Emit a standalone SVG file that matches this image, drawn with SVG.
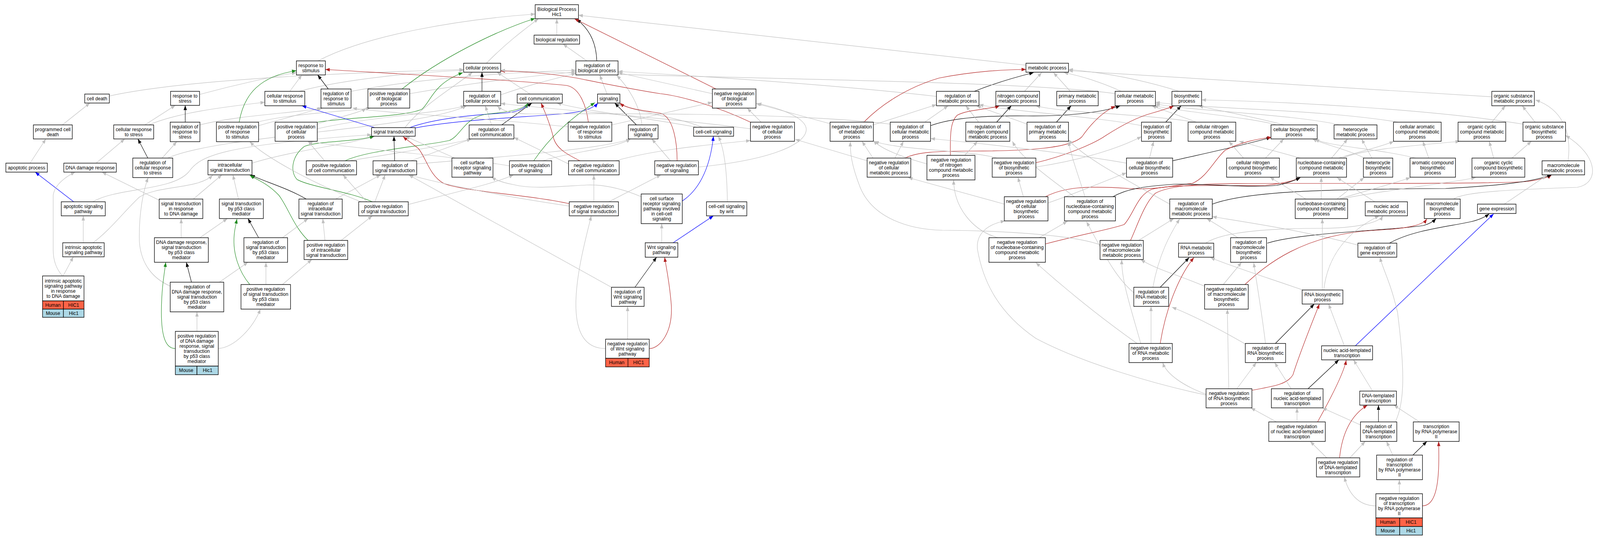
<svg xmlns="http://www.w3.org/2000/svg" width="4362" height="1381" viewBox="0 0 4362 1381">
<style>
.b{fill:#fff;stroke:#000;stroke-width:1.4}
.hu{fill:#ff6347;stroke:#000;stroke-width:1.4}
.mo{fill:#add8e6;stroke:#000;stroke-width:1.4}
.t{font-family:"Liberation Sans",Arial,Helvetica,sans-serif;font-size:13px;text-anchor:middle;fill:#000}
.e path{fill:none;stroke-width:1.2}
.g{stroke:#c0c0c0;marker-end:url(#mg)}
.k{stroke:#000;marker-end:url(#mk)}
.gr{stroke:#228b22;marker-end:url(#mgr)}
.r{stroke:#b22222;marker-end:url(#mr)}
.bl{stroke:#0000ff;marker-end:url(#mb)}
</style>
<defs>
<marker id="mg" markerUnits="userSpaceOnUse" markerWidth="13" markerHeight="10" refX="12" refY="4.5" orient="auto"><path d="M0,0 L12,4.5 L0,9 z" fill="#c0c0c0"/></marker>
<marker id="mk" markerUnits="userSpaceOnUse" markerWidth="13" markerHeight="10" refX="12" refY="4.5" orient="auto"><path d="M0,0 L12,4.5 L0,9 z" fill="#000"/></marker>
<marker id="mgr" markerUnits="userSpaceOnUse" markerWidth="13" markerHeight="10" refX="12" refY="4.5" orient="auto"><path d="M0,0 L12,4.5 L0,9 z" fill="#228b22"/></marker>
<marker id="mr" markerUnits="userSpaceOnUse" markerWidth="13" markerHeight="10" refX="12" refY="4.5" orient="auto"><path d="M0,0 L12,4.5 L0,9 z" fill="#b22222"/></marker>
<marker id="mb" markerUnits="userSpaceOnUse" markerWidth="13" markerHeight="10" refX="12" refY="4.5" orient="auto"><path d="M0,0 L12,4.5 L0,9 z" fill="#0000ff"/></marker>
</defs>
<rect width="4362" height="1381" fill="#fff"/>
<g id="diagram" transform="scale(0.93902,1)">
<g id="connectors" class="e">
<path class="g" d="M170,320 L245,264"/>
<path class="g" d="M298,246 C520,200 1000,185 1264,178"/>
<path class="g" d="M544,242 C650,215 750,195 808,186"/>
<path class="g" d="M395,320 L478,270"/>
<path class="g" d="M406,320 C480,290 600,275 722,262"/>
<path class="k" d="M505,313 L505,270"/>
<path class="g" d="M545,320 C650,295 800,290 880,277"/>
<path class="gr" d="M652,313 C665,240 710,195 808,181"/>
<path class="g" d="M705,322 C780,302 840,288 876,276"/>
<path class="g" d="M700,313 C800,290 950,285 1010,277"/>
<path class="g" d="M82,418 L125,356"/>
<path class="g" d="M262,418 L340,356"/>
<path class="k" d="M403,405 L376,356"/>
<path class="g" d="M442,405 L482,363"/>
<path class="g" d="M457,405 C600,345 1150,330 1272,271"/>
<path class="g" d="M687,418 C800,385 950,370 1022,349"/>
<path class="bl" d="M201,517 L96,441"/>
<path class="g" d="M253,517 C320,480 470,490 515,440 C545,400 600,372 1013,345"/>
<path class="g" d="M434,513 L278,441"/>
<path class="g" d="M527,510 L605,448"/>
<path class="g" d="M650,510 L635,448"/>
<path class="k" d="M835,510 C780,480 720,465 683,448"/>
<path class="g" d="M915,510 L1038,448"/>
<path class="gr" d="M1015,517 C950,490 850,480 810,460 C790,440 795,400 830,375 C870,360 960,365 1020,349"/>
<path class="g" d="M1022,517 L1050,448"/>
<path class="g" d="M1000,517 L935,448"/>
<path class="g" d="M1113,524 C1250,490 1350,470 1400,448"/>
<path class="g" d="M985,517 C850,470 720,400 681,363"/>
<path class="g" d="M494,609 L494,560"/>
<path class="g" d="M545,609 L620,560"/>
<path class="g" d="M227,622 L227,553"/>
<path class="g" d="M252,623 C300,590 340,540 380,505 C430,475 540,485 580,449"/>
<path class="k" d="M705,609 L676,560"/>
<path class="g" d="M770,609 L840,560"/>
<path class="gr" d="M840,616 C800,580 785,530 760,500 C730,470 700,460 681,449"/>
<path class="g" d="M886,616 L880,560"/>
<path class="g" d="M930,616 L1015,553"/>
<path class="g" d="M172,707 L200,658"/>
<path class="g" d="M170,707 C155,690 145,670 145,640 L145,500 C150,470 185,450 205,441"/>
<path class="k" d="M522,723 L508,672"/>
<path class="g" d="M598,723 L676,672"/>
<path class="g" d="M464,733 C420,715 385,680 380,620 C378,550 390,490 404,455"/>
<path class="gr" d="M681,729 C655,700 630,650 640,590 L646,561"/>
<path class="g" d="M725,729 L725,672"/>
<path class="g" d="M770,729 L850,665"/>
<path class="gr" d="M478,893 C455,893 440,870 440,800 C440,740 448,700 452,672"/>
<path class="g" d="M537,849 L537,799"/>
<path class="g" d="M595,893 C640,890 690,840 710,792"/>
<path class="g" d="M867,156 C1000,90 1250,50 1459,36"/>
<path class="g" d="M1326,162 C1380,110 1430,75 1468,48"/>
<path class="g" d="M790,234 L823,192"/>
<path class="g" d="M815,234 C950,200 1150,185 1264,180"/>
<path class="k" d="M895,228 L866,192"/>
<path class="g" d="M957,234 C1150,200 1400,185 1570,180"/>
<path class="gr" d="M1096,228 C1200,150 1350,80 1459,47"/>
<path class="g" d="M1117,240 C1300,210 1450,195 1570,184"/>
<path class="k" d="M1314,234 L1314,185"/>
<path class="g" d="M1365,243 C1450,215 1520,200 1570,188"/>
<path class="g" d="M1445,241 L1355,185"/>
<path class="gr" d="M866,313 C950,300 1100,300 1150,280 C1175,260 1180,215 1262,186"/>
<path class="g" d="M865,318 C920,300 980,290 998,277"/>
<path class="g" d="M865,330 C1000,300 1200,290 1268,271"/>
<path class="bl" d="M1022,327 L823,271"/>
<path class="bl" d="M1117,327 C1180,305 1280,295 1370,290 C1410,288 1432,278 1440,264"/>
<path class="bl" d="M1120,330 C1250,305 1450,300 1550,290 C1600,285 1620,275 1630,264"/>
<path class="g" d="M1104,327 C1150,270 1250,215 1288,185"/>
<path class="k" d="M1368,320 L1450,264"/>
<path class="g" d="M1340,320 L1323,271"/>
<path class="gr" d="M941,412 C1000,385 1150,375 1225,360 C1260,345 1265,300 1330,292 C1400,286 1430,278 1440,264"/>
<path class="g" d="M950,412 C1100,390 1230,370 1285,356"/>
<path class="g" d="M885,412 L840,362"/>
<path class="k" d="M1076,412 L1074,349"/>
<path class="g" d="M1120,412 L1285,356"/>
<path class="g" d="M1136,420 C1400,400 1650,380 1719,356"/>
<path class="g" d="M1240,405 L1105,349"/>
<path class="gr" d="M1455,412 C1500,350 1560,300 1622,263"/>
<path class="g" d="M1480,412 C1550,390 1680,380 1719,356"/>
<path class="g" d="M1389,425 C1200,395 950,380 840,362"/>
<path class="g" d="M1518,90 L1518,48"/>
<path class="g" d="M1600,156 L1535,113"/>
<path class="k" d="M1627,156 C1625,100 1600,70 1572,49"/>
<path class="r" d="M1952,228 L1566,48"/>
<path class="g" d="M1942,240 L1685,186"/>
<path class="g" d="M1655,241 L1635,192"/>
<path class="r" d="M1604,313 C1598,270 1580,225 1545,219 C1400,205 1100,190 887,178"/>
<path class="g" d="M1549,325 C1300,300 1050,290 961,277"/>
<path class="g" d="M1668,320 L1942,262"/>
<path class="k" d="M1735,320 L1676,264"/>
<path class="g" d="M1750,320 C1745,270 1710,220 1681,193"/>
<path class="g" d="M1917,327 C1850,300 1740,290 1682,264"/>
<path class="g" d="M1900,326 C1750,300 1600,285 1518,264"/>
<path class="r" d="M2046,313 C1950,270 1850,245 1800,240 C1700,225 1600,205 1572,200 C1500,188 1420,182 1365,182"/>
<path class="g" d="M2046,330 C1800,300 1500,280 1365,265"/>
<path class="g" d="M2075,313 L2037,277"/>
<path class="r" d="M1581,412 C1545,395 1515,380 1508,350 C1500,320 1485,285 1475,264"/>
<path class="g" d="M1550,420 L1401,352"/>
<path class="g" d="M1678,412 C1800,380 1950,370 2046,360"/>
<path class="r" d="M1846,412 C1846,370 1838,300 1800,290 C1760,284 1710,280 1690,264"/>
<path class="g" d="M1828,412 L1777,356"/>
<path class="g" d="M1904,428 C2100,410 2200,370 2198,330 C2195,300 2120,275 2064,265"/>
<path class="r" d="M1552,522 C1450,500 1260,490 1210,470 C1170,450 1160,400 1140,380 C1120,365 1105,355 1099,350"/>
<path class="g" d="M1619,517 L1619,448"/>
<path class="g" d="M1552,528 C1350,500 1200,470 1115,448"/>
<path class="g" d="M1660,517 L1802,448"/>
<path class="g" d="M1748,504 C1700,485 1650,472 1600,474 C1520,478 1450,485 1400,473 C1370,468 1350,460 1340,454"/>
<path class="bl" d="M1860,515 C1900,490 1935,440 1945,349"/>
<path class="g" d="M1983,517 C1982,440 1975,380 1958,349"/>
<path class="g" d="M1804,622 L1804,573"/>
<path class="bl" d="M1835,622 L1945,553"/>
<path class="k" d="M1731,736 L1790,659"/>
<path class="g" d="M1667,736 L1114,448"/>
<path class="g" d="M1711,869 L1711,785"/>
<path class="r" d="M1770,893 C1800,893 1835,850 1830,780 C1825,720 1815,680 1812,659"/>
<path class="g" d="M1651,893 C1600,893 1570,860 1570,780 C1570,700 1600,600 1612,553"/>
<path class="g" d="M2797,167 L1577,39"/>
<path class="k" d="M2656,234 C2720,210 2780,195 2818,186"/>
<path class="g" d="M2553,247 C2300,220 2000,200 1685,183"/>
<path class="g" d="M2793,234 L2840,186"/>
<path class="g" d="M2918,234 L2872,186"/>
<path class="g" d="M3057,234 C3000,210 2950,195 2900,186"/>
<path class="g" d="M3040,240 C2800,205 1800,200 1365,180"/>
<path class="g" d="M3215,234 C3100,200 3000,185 2913,178"/>
<path class="g" d="M4067,248 L2913,181"/>
<path class="r" d="M2355,313 C2400,270 2470,225 2560,200 C2650,183 2740,178 2797,178"/>
<path class="g" d="M2381,320 L2553,268"/>
<path class="g" d="M2263,317 L2061,265"/>
<path class="g" d="M2521,313 L2585,271"/>
<path class="k" d="M2537,322 C2600,300 2700,296 2800,297 C2900,298 3000,290 3054,271"/>
<path class="g" d="M2427,318 C2200,292 1800,290 1450,292 C1400,292 1370,285 1356,272"/>
<path class="k" d="M2717,313 L2757,271"/>
<path class="g" d="M2668,313 L2633,271"/>
<path class="k" d="M2880,313 L2920,271"/>
<path class="g" d="M2800,318 L2662,271"/>
<path class="k" d="M3178,313 L3220,271"/>
<path class="g" d="M3112,322 C3000,300 2750,285 2669,268"/>
<path class="g" d="M3260,313 C3100,290 2900,290 2824,271"/>
<path class="g" d="M3262,313 L3140,271"/>
<path class="g" d="M3500,320 C3400,295 3300,280 3268,271"/>
<path class="g" d="M3481,320 C3400,300 3250,290 3145,271"/>
<path class="g" d="M3654,320 C3500,290 3250,285 3150,266"/>
<path class="g" d="M3812,313 C3600,280 3300,280 3150,262"/>
<path class="g" d="M4067,313 L4104,271"/>
<path class="g" d="M4185,313 L4150,271"/>
<path class="g" d="M4152,318 C3900,280 3500,260 3276,256"/>
<path class="g" d="M2380,405 L2350,362"/>
<path class="g" d="M2440,405 L2463,362"/>
<path class="r" d="M2467,405 C2500,390 2550,387 2650,387 C2800,387 2920,380 2950,350 C2980,310 3010,285 3041,272"/>
<path class="g" d="M2364,412 L2168,357"/>
<path class="r" d="M2591,398 C2590,340 2592,310 2610,295 C2640,280 2700,280 2725,271"/>
<path class="g" d="M2630,398 L2665,362"/>
<path class="g" d="M2527,420 C2450,400 2400,380 2381,360"/>
<path class="r" d="M2824,417 C2900,400 2980,370 3015,347 C3060,320 3100,300 3140,290 C3170,282 3190,276 3200,271"/>
<path class="g" d="M2718,405 C2650,385 2450,385 2384,362"/>
<path class="g" d="M2824,428 C2950,410 3050,380 3112,350"/>
<path class="g" d="M3134,405 L3145,362"/>
<path class="k" d="M3197,412 C3300,390 3400,370 3465,352"/>
<path class="g" d="M3071,418 C2900,390 2700,370 2537,355"/>
<path class="g" d="M3390,405 L3350,362"/>
<path class="g" d="M3450,405 L3500,356"/>
<path class="g" d="M3545,405 L3378,362"/>
<path class="g" d="M3630,405 L3674,356"/>
<path class="g" d="M3650,405 C3700,390 3770,375 3800,362"/>
<path class="g" d="M3660,405 C3720,380 3900,370 3980,362"/>
<path class="g" d="M3740,405 L3712,356"/>
<path class="g" d="M3719,405 C3680,385 3610,370 3578,356"/>
<path class="g" d="M3895,405 L3879,362"/>
<path class="g" d="M3860,405 C3750,380 3620,375 3585,356"/>
<path class="g" d="M4072,405 L4060,362"/>
<path class="g" d="M4122,405 L4175,362"/>
<path class="g" d="M4275,412 C4285,340 4260,280 4186,256"/>
<path class="g" d="M2738,523 L2476,455"/>
<path class="g" d="M2790,504 L2775,454"/>
<path class="r" d="M2850,504 C2900,480 2960,475 3080,483 C3150,487 3200,475 3250,470 C3290,455 3310,410 3340,385 C3380,365 3430,355 3467,352"/>
<path class="g" d="M2857,520 C2950,490 3020,460 3071,443"/>
<path class="r" d="M3082,616 C3100,580 3120,520 3150,495 C3200,470 3300,470 3500,470 C3800,470 4100,470 4164,465 C4200,460 4220,455 4230,448"/>
<path class="r" d="M2850,625 C2950,600 3040,585 3065,575 C3090,550 3100,500 3140,485 C3200,470 3350,478 3450,475 C3500,470 3530,462 3545,455"/>
<path class="k" d="M3034,504 C3070,485 3110,478 3200,472 C3300,470 3400,482 3480,475 C3510,470 3530,462 3545,455"/>
<path class="g" d="M2929,504 C2850,450 2780,400 2760,362"/>
<path class="g" d="M2958,504 C2940,450 2920,400 2913,362"/>
<path class="k" d="M3305,523 C3400,490 3600,485 3941,483 C4100,475 4180,465 4230,448"/>
<path class="g" d="M3189,523 C3050,450 2950,400 2913,358"/>
<path class="g" d="M3602,510 L3602,454"/>
<path class="g" d="M3560,510 L3462,454"/>
<path class="g" d="M3645,510 L3719,455"/>
<path class="g" d="M3650,510 C3720,490 3800,470 3845,455"/>
<path class="g" d="M3655,510 C3750,490 3950,470 4023,455"/>
<path class="g" d="M3748,517 L3645,455"/>
<path class="g" d="M3963,510 C3990,490 4150,485 4300,480 C4360,470 4360,400 4268,347"/>
<path class="g" d="M4101,523 L4216,450"/>
<path class="g" d="M2833,609 L2910,567"/>
<path class="g" d="M2720,609 C2650,590 2600,530 2600,461"/>
<path class="g" d="M3104,616 L3200,560"/>
<path class="g" d="M2999,627 C2920,600 2700,590 2569,590 C2480,588 2380,560 2345,480 C2320,420 2318,390 2318,363"/>
<path class="g" d="M3287,623 C3330,595 3450,585 3600,585 C3700,585 3760,570 3770,553"/>
<path class="k" d="M3455,623 C3550,595 3800,590 3880,578 C3900,573 3910,565 3915,560"/>
<path class="g" d="M3375,609 L3290,560"/>
<path class="k" d="M3788,623 C3850,590 3950,580 4000,570 C4030,565 4050,555 4060,548"/>
<path class="g" d="M3702,628 C3550,590 3400,570 3305,555"/>
<path class="k" d="M3163,736 L3242,660"/>
<path class="g" d="M3091,750 C3040,710 3010,650 2962,568"/>
<path class="g" d="M3143,736 C3160,650 3190,600 3216,561"/>
<path class="g" d="M3335,729 L3385,672"/>
<path class="r" d="M3394,729 C3450,680 3550,600 3750,590 C3850,585 3880,575 3890,561"/>
<path class="g" d="M3290,736 C3230,710 3150,690 3110,665"/>
<path class="g" d="M3552,743 C3450,710 3350,680 3300,660"/>
<path class="g" d="M3605,743 L3605,560"/>
<path class="g" d="M3609,743 C3620,650 3680,590 3760,553"/>
<path class="g" d="M3138,880 L3138,785"/>
<path class="r" d="M3163,880 C3180,780 3220,700 3255,660"/>
<path class="g" d="M3110,880 C3080,780 3058,720 3058,665"/>
<path class="g" d="M3100,880 C2980,800 2880,720 2824,673"/>
<path class="k" d="M3477,880 L3583,779"/>
<path class="g" d="M3396,882 C3300,830 3230,800 3195,787"/>
<path class="g" d="M3450,880 C3440,800 3425,720 3418,673"/>
<path class="g" d="M3665,886 L3622,779"/>
<path class="bl" d="M3695,886 L4072,548"/>
<path class="g" d="M3288,1010 C3230,990 3180,960 3170,929"/>
<path class="g" d="M3350,996 L3346,792"/>
<path class="g" d="M3372,996 L3425,929"/>
<path class="r" d="M3413,1000 C3470,990 3510,985 3525,960 C3545,900 3580,820 3597,779"/>
<path class="g" d="M3288,1012 C3150,985 2950,930 2824,867 C2720,800 2680,720 2665,640 C2660,600 2690,575 2740,566"/>
<path class="k" d="M3566,996 L3650,922"/>
<path class="g" d="M3520,996 L3475,929"/>
<path class="g" d="M3742,1002 L3690,922"/>
<path class="g" d="M3480,1081 L3410,1045"/>
<path class="g" d="M3536,1081 L3536,1045"/>
<path class="r" d="M3592,1081 C3640,1000 3665,950 3670,923"/>
<path class="k" d="M3758,1081 L3758,1038"/>
<path class="g" d="M3712,1090 L3605,1045"/>
<path class="g" d="M3804,1081 C3830,1030 3830,950 3810,800 C3790,720 3770,690 3762,659"/>
<path class="g" d="M3870,1081 L3800,1038"/>
<path class="g" d="M3617,1173 L3572,1131"/>
<path class="g" d="M3680,1173 L3722,1131"/>
<path class="r" d="M3652,1173 C3660,1100 3690,1060 3728,1038"/>
<path class="g" d="M3797,1166 L3780,1131"/>
<path class="k" d="M3852,1166 L3890,1131"/>
<path class="g" d="M3815,1265 L3815,1229"/>
<path class="g" d="M3751,1296 C3700,1296 3675,1260 3665,1222"/>
<path class="r" d="M3878,1296 C3920,1296 3925,1220 3922,1131"/>
</g>
<g id="nodes">
<g id="n1"><rect class="b" x="231" y="241" width="67" height="23"/><text class="t" x="264.5" y="257">cell death</text></g>
<g id="n2"><rect class="b" x="465" y="234" width="79" height="36"/><text class="t"><tspan x="504.5" y="250">response to</tspan><tspan x="504.5" y="263">stress</tspan></text></g>
<g id="n3"><rect class="b" x="91" y="320" width="106" height="36"/><text class="t"><tspan x="144" y="336">programmed cell</tspan><tspan x="144" y="349">death</tspan></text></g>
<g id="n4"><rect class="b" x="310" y="320" width="109" height="36"/><text class="t"><tspan x="364.5" y="336">cellular response</tspan><tspan x="364.5" y="349">to stress</tspan></text></g>
<g id="n5"><rect class="b" x="464" y="313" width="81" height="50"/><text class="t"><tspan x="504.5" y="329.5">regulation of</tspan><tspan x="504.5" y="342.5">response to</tspan><tspan x="504.5" y="355.5">stress</tspan></text></g>
<g id="n6"><rect class="b" x="590" y="313" width="115" height="50"/><text class="t"><tspan x="647.5" y="329.5">positive regulation</tspan><tspan x="647.5" y="342.5">of response</tspan><tspan x="647.5" y="355.5">to stimulus</tspan></text></g>
<g id="n7"><rect class="b" x="16" y="418" width="113" height="23"/><text class="t" x="72.5" y="434">apoptotic process</text></g>
<g id="n8"><rect class="b" x="174" y="418" width="143" height="23"/><text class="t" x="245.5" y="434">DNA damage response</text></g>
<g id="n9"><rect class="b" x="362" y="405" width="109" height="50"/><text class="t"><tspan x="416.5" y="421.5">regulation of</tspan><tspan x="416.5" y="434.5">cellular response</tspan><tspan x="416.5" y="447.5">to stress</tspan></text></g>
<g id="n10"><rect class="b" x="567" y="411" width="120" height="37"/><text class="t"><tspan x="627" y="427.5">intracellular</tspan><tspan x="627" y="440.5">signal transduction</tspan></text></g>
<g id="n11"><rect class="b" x="167" y="517" width="120" height="36"/><text class="t"><tspan x="227" y="533">apoptotic signaling</tspan><tspan x="227" y="546">pathway</tspan></text></g>
<g id="n12"><rect class="b" x="434" y="510" width="119" height="50"/><text class="t"><tspan x="493.5" y="526.5">signal transduction</tspan><tspan x="493.5" y="539.5">in response</tspan><tspan x="493.5" y="552.5">to DNA damage</tspan></text></g>
<g id="n13"><rect class="b" x="598" y="510" width="120" height="50"/><text class="t"><tspan x="658" y="526.5">signal transduction</tspan><tspan x="658" y="539.5">by p53 class</tspan><tspan x="658" y="552.5">mediator</tspan></text></g>
<g id="n14"><rect class="b" x="815" y="510" width="118" height="50"/><text class="t"><tspan x="874" y="526.5">regulation of</tspan><tspan x="874" y="539.5">intracellular</tspan><tspan x="874" y="552.5">signal transduction</tspan></text></g>
<g id="n15"><rect class="b" x="978" y="517" width="135" height="36"/><text class="t"><tspan x="1045.5" y="533">positive regulation</tspan><tspan x="1045.5" y="546">of signal transduction</tspan></text></g>
<g id="n16"><rect class="b" x="421" y="609" width="147" height="63"/><text class="t"><tspan x="494.5" y="625.5">DNA damage response,</tspan><tspan x="494.5" y="638.5">signal transduction</tspan><tspan x="494.5" y="651.5">by p53 class</tspan><tspan x="494.5" y="664.5">mediator</tspan></text></g>
<g id="n17"><rect class="b" x="171" y="622" width="113" height="36"/><text class="t"><tspan x="227.5" y="638">intrinsic apoptotic</tspan><tspan x="227.5" y="651">signaling pathway</tspan></text></g>
<g id="n18"><rect class="b" x="665" y="609" width="119" height="63"/><text class="t"><tspan x="724.5" y="625.5">regulation of</tspan><tspan x="724.5" y="638.5">signal transduction</tspan><tspan x="724.5" y="651.5">by p53 class</tspan><tspan x="724.5" y="664.5">mediator</tspan></text></g>
<g id="n19"><rect class="b" x="829" y="616" width="119" height="49"/><text class="t"><tspan x="888.5" y="632">positive regulation</tspan><tspan x="888.5" y="645">of intracellular</tspan><tspan x="888.5" y="658">signal transduction</tspan></text></g>
<g id="n20"><rect class="b" x="116" y="707" width="113" height="64"/><text class="t"><tspan x="172.5" y="724">intrinsic apoptotic</tspan><tspan x="172.5" y="737">signaling pathway</tspan><tspan x="172.5" y="750">in response</tspan><tspan x="172.5" y="763">to DNA damage</tspan></text>
<rect class="hu" x="116" y="771" width="57" height="21"/><rect class="hu" x="173" y="771" width="56" height="21"/><text class="t" x="144.5" y="786">Human</text><text class="t" x="201" y="786">HIC1</text>
<rect class="mo" x="116" y="792" width="57" height="21"/><rect class="mo" x="173" y="792" width="56" height="21"/><text class="t" x="144.5" y="807">Mouse</text><text class="t" x="201" y="807">Hic1</text></g>
<g id="n21"><rect class="b" x="464" y="723" width="146" height="76"/><text class="t"><tspan x="537" y="739.5">regulation of</tspan><tspan x="537" y="752.5">DNA damage response,</tspan><tspan x="537" y="765.5">signal transduction</tspan><tspan x="537" y="778.5">by p53 class</tspan><tspan x="537" y="791.5">mediator</tspan></text></g>
<g id="n22"><rect class="b" x="657" y="729" width="135" height="63"/><text class="t"><tspan x="724.5" y="745.5">positive regulation</tspan><tspan x="724.5" y="758.5">of signal transduction</tspan><tspan x="724.5" y="771.5">by p53 class</tspan><tspan x="724.5" y="784.5">mediator</tspan></text></g>
<g id="n23"><rect class="b" x="478" y="849" width="117" height="89"/><text class="t"><tspan x="536.5" y="865.5">positive regulation</tspan><tspan x="536.5" y="878.5">of DNA damage</tspan><tspan x="536.5" y="891.5">response, signal</tspan><tspan x="536.5" y="904.5">transduction</tspan><tspan x="536.5" y="917.5">by p53 class</tspan><tspan x="536.5" y="930.5">mediator</tspan></text>
<rect class="mo" x="478" y="938" width="59" height="22"/><rect class="mo" x="537" y="938" width="58" height="22"/><text class="t" x="507.5" y="953.5">Mouse</text><text class="t" x="566" y="953.5">Hic1</text></g>
<g id="n24"><rect class="b" x="808" y="156" width="79" height="36"/><text class="t"><tspan x="847.5" y="172">response to</tspan><tspan x="847.5" y="185">stimulus</tspan></text></g>
<g id="n25"><rect class="b" x="1264" y="162" width="101" height="23"/><text class="t" x="1314.5" y="178">cellular process</text></g>
<g id="n26"><rect class="b" x="722" y="234" width="109" height="37"/><text class="t"><tspan x="776.5" y="250.5">cellular response</tspan><tspan x="776.5" y="263.5">to stimulus</tspan></text></g>
<g id="n27"><rect class="b" x="875" y="228" width="82" height="49"/><text class="t"><tspan x="916" y="244">regulation of</tspan><tspan x="916" y="257">response to</tspan><tspan x="916" y="270">stimulus</tspan></text></g>
<g id="n28"><rect class="b" x="1003" y="228" width="114" height="49"/><text class="t"><tspan x="1060" y="244">positive regulation</tspan><tspan x="1060" y="257">of biological</tspan><tspan x="1060" y="270">process</tspan></text></g>
<g id="n29"><rect class="b" x="1264" y="234" width="101" height="37"/><text class="t"><tspan x="1314.5" y="250.5">regulation of</tspan><tspan x="1314.5" y="263.5">cellular process</tspan></text></g>
<g id="n30"><rect class="b" x="1410" y="241" width="123" height="23"/><text class="t" x="1471.5" y="257">cell communication</text></g>
<g id="n31"><rect class="b" x="750" y="313" width="115" height="49"/><text class="t"><tspan x="807.5" y="329">positive regulation</tspan><tspan x="807.5" y="342">of cellular</tspan><tspan x="807.5" y="355">process</tspan></text></g>
<g id="n32"><rect class="b" x="1013" y="327" width="119" height="22"/><text class="t" x="1072.5" y="342.5">signal transduction</text></g>
<g id="n33"><rect class="b" x="1279" y="320" width="122" height="36"/><text class="t"><tspan x="1340" y="336">regulation of</tspan><tspan x="1340" y="349">cell communication</tspan></text></g>
<g id="n34"><rect class="b" x="835" y="412" width="137" height="36"/><text class="t"><tspan x="903.5" y="428">positive regulation</tspan><tspan x="903.5" y="441">of cell communication</tspan></text></g>
<g id="n35"><rect class="b" x="1017" y="412" width="119" height="36"/><text class="t"><tspan x="1076.5" y="428">regulation of</tspan><tspan x="1076.5" y="441">signal transduction</tspan></text></g>
<g id="n36"><rect class="b" x="1232" y="405" width="112" height="49"/><text class="t"><tspan x="1288" y="421">cell surface</tspan><tspan x="1288" y="434">receptor signaling</tspan><tspan x="1288" y="447">pathway</tspan></text></g>
<g id="n37"><rect class="b" x="1389" y="412" width="115" height="36"/><text class="t"><tspan x="1446.5" y="428">positive regulation</tspan><tspan x="1446.5" y="441">of signaling</tspan></text></g>
<g id="n38"><rect class="b" x="1459" y="12" width="118" height="36"/><text class="t"><tspan x="1518" y="28">Biological Process</tspan><tspan x="1518" y="41">Hic1</tspan></text></g>
<g id="n39"><rect class="b" x="1456" y="90" width="124" height="23"/><text class="t" x="1518" y="106">biological regulation</text></g>
<g id="n40"><rect class="b" x="1570" y="156" width="115" height="36"/><text class="t"><tspan x="1627.5" y="172">regulation of</tspan><tspan x="1627.5" y="185">biological process</tspan></text></g>
<g id="n41"><rect class="b" x="1629" y="241" width="61" height="23"/><text class="t" x="1659.5" y="257">signaling</text></g>
<g id="n42"><rect class="b" x="1942" y="228" width="119" height="49"/><text class="t"><tspan x="2001.5" y="244">negative regulation</tspan><tspan x="2001.5" y="257">of biological</tspan><tspan x="2001.5" y="270">process</tspan></text></g>
<g id="n43"><rect class="b" x="1549" y="313" width="119" height="49"/><text class="t"><tspan x="1608.5" y="329">negative regulation</tspan><tspan x="1608.5" y="342">of response</tspan><tspan x="1608.5" y="355">to stimulus</tspan></text></g>
<g id="n44"><rect class="b" x="1713" y="320" width="81" height="36"/><text class="t"><tspan x="1753.5" y="336">regulation of</tspan><tspan x="1753.5" y="349">signaling</tspan></text></g>
<g id="n45"><rect class="b" x="1891" y="326" width="109" height="23"/><text class="t" x="1945.5" y="342">cell-cell signaling</text></g>
<g id="n46"><rect class="b" x="2046" y="313" width="120" height="49"/><text class="t"><tspan x="2106" y="329">negative regulation</tspan><tspan x="2106" y="342">of cellular</tspan><tspan x="2106" y="355">process</tspan></text></g>
<g id="n47"><rect class="b" x="1550" y="412" width="138" height="36"/><text class="t"><tspan x="1619" y="428">negative regulation</tspan><tspan x="1619" y="441">of cell communication</tspan></text></g>
<g id="n48"><rect class="b" x="1785" y="412" width="119" height="36"/><text class="t"><tspan x="1844.5" y="428">negative regulation</tspan><tspan x="1844.5" y="441">of signaling</tspan></text></g>
<g id="n49"><rect class="b" x="1552" y="517" width="134" height="36"/><text class="t"><tspan x="1619" y="533">negative regulation</tspan><tspan x="1619" y="546">of signal transduction</tspan></text></g>
<g id="n50"><rect class="b" x="1748" y="497" width="112" height="76"/><text class="t"><tspan x="1804" y="513.5">cell surface</tspan><tspan x="1804" y="526.5">receptor signaling</tspan><tspan x="1804" y="539.5">pathway involved</tspan><tspan x="1804" y="552.5">in cell-cell</tspan><tspan x="1804" y="565.5">signaling</tspan></text></g>
<g id="n51"><rect class="b" x="1926" y="517" width="110" height="36"/><text class="t"><tspan x="1981" y="533">cell-cell signaling</tspan><tspan x="1981" y="546">by wnt</tspan></text></g>
<g id="n52"><rect class="b" x="1759" y="622" width="89" height="37"/><text class="t"><tspan x="1803.5" y="638.5">Wnt signaling</tspan><tspan x="1803.5" y="651.5">pathway</tspan></text></g>
<g id="n53"><rect class="b" x="1667" y="736" width="89" height="49"/><text class="t"><tspan x="1711.5" y="752">regulation of</tspan><tspan x="1711.5" y="765">Wnt signaling</tspan><tspan x="1711.5" y="778">pathway</tspan></text></g>
<g id="n54"><rect class="b" x="1651" y="869" width="119" height="49"/><text class="t"><tspan x="1710.5" y="885">negative regulation</tspan><tspan x="1710.5" y="898">of Wnt signaling</tspan><tspan x="1710.5" y="911">pathway</tspan></text>
<rect class="hu" x="1651" y="918" width="61" height="22"/><rect class="hu" x="1712" y="918" width="58" height="22"/><text class="t" x="1681.5" y="933.5">Human</text><text class="t" x="1741" y="933.5">HIC1</text></g>
<g id="n55"><rect class="b" x="2797" y="162" width="116" height="23"/><text class="t" x="2855" y="178">metabolic process</text></g>
<g id="n56"><rect class="b" x="2553" y="234" width="116" height="37"/><text class="t"><tspan x="2611" y="250.5">regulation of</tspan><tspan x="2611" y="263.5">metabolic process</tspan></text></g>
<g id="n57"><rect class="b" x="2715" y="234" width="119" height="37"/><text class="t"><tspan x="2774.5" y="250.5">nitrogen compound</tspan><tspan x="2774.5" y="263.5">metabolic process</tspan></text></g>
<g id="n58"><rect class="b" x="2881" y="234" width="113" height="37"/><text class="t"><tspan x="2937.5" y="250.5">primary metabolic</tspan><tspan x="2937.5" y="263.5">process</tspan></text></g>
<g id="n59"><rect class="b" x="3040" y="234" width="110" height="37"/><text class="t"><tspan x="3095" y="250.5">cellular metabolic</tspan><tspan x="3095" y="263.5">process</tspan></text></g>
<g id="n60"><rect class="b" x="3195" y="234" width="81" height="37"/><text class="t"><tspan x="3235.5" y="250.5">biosynthetic</tspan><tspan x="3235.5" y="263.5">process</tspan></text></g>
<g id="n61"><rect class="b" x="4067" y="234" width="116" height="37"/><text class="t"><tspan x="4125" y="250.5">organic substance</tspan><tspan x="4125" y="263.5">metabolic process</tspan></text></g>
<g id="n62"><rect class="b" x="2263" y="313" width="118" height="49"/><text class="t"><tspan x="2322" y="329">negative regulation</tspan><tspan x="2322" y="342">of metabolic</tspan><tspan x="2322" y="355">process</tspan></text></g>
<g id="n63"><rect class="b" x="2427" y="313" width="110" height="49"/><text class="t"><tspan x="2482" y="329">regulation of</tspan><tspan x="2482" y="342">cellular metabolic</tspan><tspan x="2482" y="355">process</tspan></text></g>
<g id="n64"><rect class="b" x="2633" y="313" width="120" height="49"/><text class="t"><tspan x="2693" y="329">regulation of</tspan><tspan x="2693" y="342">nitrogen compound</tspan><tspan x="2693" y="355">metabolic process</tspan></text></g>
<g id="n65"><rect class="b" x="2800" y="313" width="113" height="49"/><text class="t"><tspan x="2856.5" y="329">regulation of</tspan><tspan x="2856.5" y="342">primary metabolic</tspan><tspan x="2856.5" y="355">process</tspan></text></g>
<g id="n66"><rect class="b" x="3112" y="313" width="81" height="49"/><text class="t"><tspan x="3152.5" y="329">regulation of</tspan><tspan x="3152.5" y="342">biosynthetic</tspan><tspan x="3152.5" y="355">process</tspan></text></g>
<g id="n67"><rect class="b" x="3239" y="313" width="130" height="49"/><text class="t"><tspan x="3304" y="329">cellular nitrogen</tspan><tspan x="3304" y="342">compound metabolic</tspan><tspan x="3304" y="355">process</tspan></text></g>
<g id="n68"><rect class="b" x="3465" y="320" width="126" height="36"/><text class="t"><tspan x="3528" y="336">cellular biosynthetic</tspan><tspan x="3528" y="349">process</tspan></text></g>
<g id="n69"><rect class="b" x="3637" y="320" width="117" height="36"/><text class="t"><tspan x="3695.5" y="336">heterocycle</tspan><tspan x="3695.5" y="349">metabolic process</tspan></text></g>
<g id="n70"><rect class="b" x="3799" y="313" width="130" height="49"/><text class="t"><tspan x="3864" y="329">cellular aromatic</tspan><tspan x="3864" y="342">compound metabolic</tspan><tspan x="3864" y="355">process</tspan></text></g>
<g id="n71"><rect class="b" x="3975" y="313" width="130" height="49"/><text class="t"><tspan x="4040" y="329">organic cyclic</tspan><tspan x="4040" y="342">compound metabolic</tspan><tspan x="4040" y="355">process</tspan></text></g>
<g id="n72"><rect class="b" x="4152" y="313" width="116" height="49"/><text class="t"><tspan x="4210" y="329">organic substance</tspan><tspan x="4210" y="342">biosynthetic</tspan><tspan x="4210" y="355">process</tspan></text></g>
<g id="n73"><rect class="b" x="2364" y="405" width="119" height="49"/><text class="t"><tspan x="2423.5" y="421">negative regulation</tspan><tspan x="2423.5" y="434">of cellular</tspan><tspan x="2423.5" y="447">metabolic process</tspan></text></g>
<g id="n74"><rect class="b" x="2527" y="398" width="131" height="63"/><text class="t"><tspan x="2592.5" y="414.5">negative regulation</tspan><tspan x="2592.5" y="427.5">of nitrogen</tspan><tspan x="2592.5" y="440.5">compound metabolic</tspan><tspan x="2592.5" y="453.5">process</tspan></text></g>
<g id="n75"><rect class="b" x="2705" y="405" width="119" height="49"/><text class="t"><tspan x="2764.5" y="421">negative regulation</tspan><tspan x="2764.5" y="434">of biosynthetic</tspan><tspan x="2764.5" y="447">process</tspan></text></g>
<g id="n76"><rect class="b" x="3071" y="405" width="126" height="49"/><text class="t"><tspan x="3134" y="421">regulation of</tspan><tspan x="3134" y="434">cellular biosynthetic</tspan><tspan x="3134" y="447">process</tspan></text></g>
<g id="n77"><rect class="b" x="3344" y="405" width="144" height="49"/><text class="t"><tspan x="3416" y="421">cellular nitrogen</tspan><tspan x="3416" y="434">compound biosynthetic</tspan><tspan x="3416" y="447">process</tspan></text></g>
<g id="n78"><rect class="b" x="3534" y="405" width="137" height="49"/><text class="t"><tspan x="3602.5" y="421">nucleobase-containing</tspan><tspan x="3602.5" y="434">compound metabolic</tspan><tspan x="3602.5" y="447">process</tspan></text></g>
<g id="n79"><rect class="b" x="3717" y="405" width="80" height="49"/><text class="t"><tspan x="3757" y="421">heterocycle</tspan><tspan x="3757" y="434">biosynthetic</tspan><tspan x="3757" y="447">process</tspan></text></g>
<g id="n80"><rect class="b" x="3844" y="405" width="124" height="49"/><text class="t"><tspan x="3906" y="421">aromatic compound</tspan><tspan x="3906" y="434">biosynthetic</tspan><tspan x="3906" y="447">process</tspan></text></g>
<g id="n81"><rect class="b" x="4013" y="405" width="144" height="49"/><text class="t"><tspan x="4085" y="421">organic cyclic</tspan><tspan x="4085" y="434">compound biosynthetic</tspan><tspan x="4085" y="447">process</tspan></text></g>
<g id="n82"><rect class="b" x="4204" y="412" width="116" height="36"/><text class="t"><tspan x="4262" y="428">macromolecule</tspan><tspan x="4262" y="441">metabolic process</tspan></text></g>
<g id="n83"><rect class="b" x="2738" y="504" width="119" height="62"/><text class="t"><tspan x="2797.5" y="520">negative regulation</tspan><tspan x="2797.5" y="533">of cellular</tspan><tspan x="2797.5" y="546">biosynthetic</tspan><tspan x="2797.5" y="559">process</tspan></text></g>
<g id="n84"><rect class="b" x="2902" y="504" width="139" height="62"/><text class="t"><tspan x="2971.5" y="520">regulation of</tspan><tspan x="2971.5" y="533">nucleobase-containing</tspan><tspan x="2971.5" y="546">compound metabolic</tspan><tspan x="2971.5" y="559">process</tspan></text></g>
<g id="n85"><rect class="b" x="3189" y="510" width="116" height="50"/><text class="t"><tspan x="3247" y="526.5">regulation of</tspan><tspan x="3247" y="539.5">macromolecule</tspan><tspan x="3247" y="552.5">metabolic process</tspan></text></g>
<g id="n86"><rect class="b" x="3531" y="510" width="143" height="50"/><text class="t"><tspan x="3602.5" y="526.5">nucleobase-containing</tspan><tspan x="3602.5" y="539.5">compound biosynthetic</tspan><tspan x="3602.5" y="552.5">process</tspan></text></g>
<g id="n87"><rect class="b" x="3722" y="517" width="115" height="36"/><text class="t"><tspan x="3779.5" y="533">nucleic acid</tspan><tspan x="3779.5" y="546">metabolic process</tspan></text></g>
<g id="n88"><rect class="b" x="3883" y="510" width="98" height="50"/><text class="t"><tspan x="3932" y="526.5">macromolecule</tspan><tspan x="3932" y="539.5">biosynthetic</tspan><tspan x="3932" y="552.5">process</tspan></text></g>
<g id="n89"><rect class="b" x="4028" y="523" width="105" height="24"/><text class="t" x="4080.5" y="539.5">gene expression</text></g>
<g id="n90"><rect class="b" x="2696" y="609" width="154" height="63"/><text class="t"><tspan x="2773" y="625.5">negative regulation</tspan><tspan x="2773" y="638.5">of nucleobase-containing</tspan><tspan x="2773" y="651.5">compound metabolic</tspan><tspan x="2773" y="664.5">process</tspan></text></g>
<g id="n91"><rect class="b" x="2999" y="616" width="118" height="49"/><text class="t"><tspan x="3058" y="632">negative regulation</tspan><tspan x="3058" y="645">of macromolecule</tspan><tspan x="3058" y="658">metabolic process</tspan></text></g>
<g id="n92"><rect class="b" x="3213" y="623" width="96" height="36"/><text class="t"><tspan x="3261" y="639">RNA metabolic</tspan><tspan x="3261" y="652">process</tspan></text></g>
<g id="n93"><rect class="b" x="3355" y="609" width="98" height="63"/><text class="t"><tspan x="3404" y="625.5">regulation of</tspan><tspan x="3404" y="638.5">macromolecule</tspan><tspan x="3404" y="651.5">biosynthetic</tspan><tspan x="3404" y="664.5">process</tspan></text></g>
<g id="n94"><rect class="b" x="3702" y="623" width="106" height="36"/><text class="t"><tspan x="3755" y="639">regulation of</tspan><tspan x="3755" y="652">gene expression</tspan></text></g>
<g id="n95"><rect class="b" x="3091" y="736" width="95" height="49"/><text class="t"><tspan x="3138.5" y="752">regulation of</tspan><tspan x="3138.5" y="765">RNA metabolic</tspan><tspan x="3138.5" y="778">process</tspan></text></g>
<g id="n96"><rect class="b" x="3284" y="729" width="119" height="63"/><text class="t"><tspan x="3343.5" y="745.5">negative regulation</tspan><tspan x="3343.5" y="758.5">of macromolecule</tspan><tspan x="3343.5" y="771.5">biosynthetic</tspan><tspan x="3343.5" y="784.5">process</tspan></text></g>
<g id="n97"><rect class="b" x="3550" y="743" width="111" height="36"/><text class="t"><tspan x="3605.5" y="759">RNA biosynthetic</tspan><tspan x="3605.5" y="772">process</tspan></text></g>
<g id="n98"><rect class="b" x="3078" y="880" width="118" height="49"/><text class="t"><tspan x="3137" y="896">negative regulation</tspan><tspan x="3137" y="909">of RNA metabolic</tspan><tspan x="3137" y="922">process</tspan></text></g>
<g id="n99"><rect class="b" x="3395" y="880" width="110" height="49"/><text class="t"><tspan x="3450" y="896">regulation of</tspan><tspan x="3450" y="909">RNA biosynthetic</tspan><tspan x="3450" y="922">process</tspan></text></g>
<g id="n100"><rect class="b" x="3603" y="886" width="139" height="36"/><text class="t"><tspan x="3672.5" y="902">nucleic acid-templated</tspan><tspan x="3672.5" y="915">transcription</tspan></text></g>
<g id="n101"><rect class="b" x="3288" y="996" width="125" height="49"/><text class="t"><tspan x="3350.5" y="1012">negative regulation</tspan><tspan x="3350.5" y="1025">of RNA biosynthetic</tspan><tspan x="3350.5" y="1038">process</tspan></text></g>
<g id="n102"><rect class="b" x="3466" y="996" width="141" height="49"/><text class="t"><tspan x="3536.5" y="1012">regulation of</tspan><tspan x="3536.5" y="1025">nucleic acid-templated</tspan><tspan x="3536.5" y="1038">transcription</tspan></text></g>
<g id="n103"><rect class="b" x="3707" y="1002" width="100" height="36"/><text class="t"><tspan x="3757" y="1018">DNA-templated</tspan><tspan x="3757" y="1031">transcription</tspan></text></g>
<g id="n104"><rect class="b" x="3459" y="1081" width="154" height="50"/><text class="t"><tspan x="3536" y="1097.5">negative regulation</tspan><tspan x="3536" y="1110.5">of nucleic acid-templated</tspan><tspan x="3536" y="1123.5">transcription</tspan></text></g>
<g id="n105"><rect class="b" x="3709" y="1081" width="99" height="50"/><text class="t"><tspan x="3758.5" y="1097.5">regulation of</tspan><tspan x="3758.5" y="1110.5">DNA-templated</tspan><tspan x="3758.5" y="1123.5">transcription</tspan></text></g>
<g id="n106"><rect class="b" x="3853" y="1081" width="125" height="50"/><text class="t"><tspan x="3915.5" y="1097.5">transcription</tspan><tspan x="3915.5" y="1110.5">by RNA polymerase</tspan><tspan x="3915.5" y="1123.5">II</tspan></text></g>
<g id="n107"><rect class="b" x="3589" y="1173" width="118" height="49"/><text class="t"><tspan x="3648" y="1189">negative regulation</tspan><tspan x="3648" y="1202">of DNA-templated</tspan><tspan x="3648" y="1215">transcription</tspan></text></g>
<g id="n108"><rect class="b" x="3753" y="1166" width="125" height="63"/><text class="t"><tspan x="3815.5" y="1182.5">regulation of</tspan><tspan x="3815.5" y="1195.5">transcription</tspan><tspan x="3815.5" y="1208.5">by RNA polymerase</tspan><tspan x="3815.5" y="1221.5">II</tspan></text></g>
<g id="n109"><rect class="b" x="3751" y="1265" width="127" height="62"/><text class="t"><tspan x="3814.5" y="1281">negative regulation</tspan><tspan x="3814.5" y="1294">of transcription</tspan><tspan x="3814.5" y="1307">by RNA polymerase</tspan><tspan x="3814.5" y="1320">II</tspan></text>
<rect class="hu" x="3751" y="1327" width="65" height="22"/><rect class="hu" x="3816" y="1327" width="62" height="22"/><text class="t" x="3783.5" y="1342.5">Human</text><text class="t" x="3847" y="1342.5">HIC1</text>
<rect class="mo" x="3751" y="1349" width="65" height="22"/><rect class="mo" x="3816" y="1349" width="62" height="22"/><text class="t" x="3783.5" y="1364.5">Mouse</text><text class="t" x="3847" y="1364.5">Hic1</text></g>
</g>
</g>
</svg>
